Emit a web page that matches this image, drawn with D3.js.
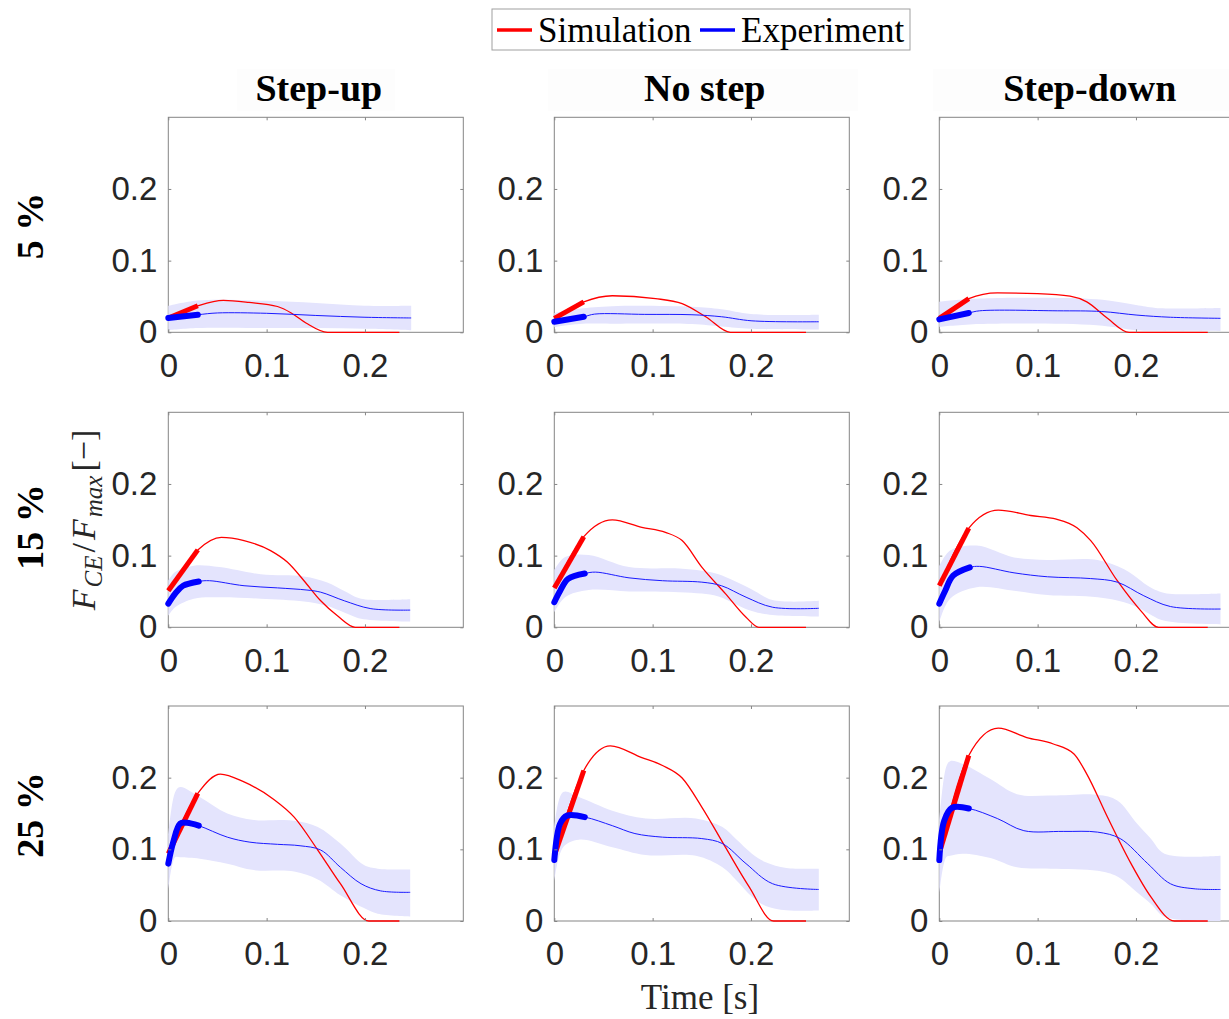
<!DOCTYPE html>
<html>
<head>
<meta charset="utf-8">
<style>
    body { margin: 0; background: white; }
    svg { display: block; }
    .tick text { font-family: 'Liberation Sans', Arial, sans-serif; font-size: 33px; fill: #262626; }
    .tick line { stroke: #858585; }
    .serif { font-family: 'Liberation Serif', 'Times New Roman', serif; }
</style>
</head>
<body>
<svg width="1229" height="1019"></svg>

<script src="https://d3js.org/d3.v7.min.js"></script>
<script>
    // column / row labels and ticks
    const colNames = ["Step-up", "No step", "Step-down"]
    const rowNames = ["5 %", "15 %", "25 %"]
    const xTicks = [0, 0.1, 0.2]
    const yTicks = [0, 0.1, 0.2]
    const thickEnd = 0.031   // the bold start of each curve

    // simulation [t, F]  /  experiment mean [t, F]  /  experiment band [t, lo, hi]
    // --- 5 %
    const simUp5 = [[0,0.020],[0.03,0.037],[0.056,0.0445],[0.082,0.0417],[0.111,0.036],[0.125,0.027],[0.14,0.013],[0.162,0],[0.235,0]]
    const expUp5 = [[0,0.020],[0.03,0.0245],[0.05,0.027],[0.1,0.0265],[0.15,0.0235],[0.2,0.021],[0.247,0.020]]
    const bandUp5 = [[0,0.003,0.037],[0.03,0.006,0.0445],[0.1,0.006,0.044],[0.15,0.006,0.041],[0.2,0.005,0.037],[0.247,0.003,0.037]]

    const simNo5 = [[0,0.0195],[0.03,0.0425],[0.059,0.051],[0.103,0.047],[0.13,0.040],[0.154,0.0217],[0.179,0],[0.256,0]]
    const expNo5 = [[0,0.0147],[0.03,0.0217],[0.041,0.0254],[0.092,0.025],[0.14,0.0245],[0.17,0.0217],[0.201,0.016],[0.269,0.0147]]
    const bandNo5 = [[0,0.007,0.027],[0.025,0.0115,0.033],[0.059,0.012,0.0365],[0.14,0.0115,0.0355],[0.17,0.008,0.032],[0.2,0.005,0.0254],[0.269,0.004,0.0245]]

    const simDown5 = [[0,0.0195],[0.03,0.047],[0.059,0.055],[0.1,0.054],[0.133,0.0505],[0.15,0.0425],[0.171,0.0195],[0.193,0],[0.273,0]]
    const expDown5 = [[0,0.018],[0.03,0.027],[0.041,0.030],[0.12,0.030],[0.165,0.029],[0.201,0.024],[0.235,0.021],[0.286,0.0195]]
    const bandDown5 = [[0,0.0075,0.0425],[0.041,0.0115,0.047],[0.16,0.010,0.046],[0.2,0.003,0.038],[0.22,0.002,0.034],[0.286,0.0015,0.034]]

    // --- 15 %
    const simUp15 = [[0,0.051],[0.03,0.108],[0.054,0.1255],[0.077,0.121],[0.104,0.107],[0.121,0.091],[0.138,0.065],[0.155,0.037],[0.172,0.016],[0.19,0],[0.235,0]]
    const expUp15 = [[0,0.033],[0.007,0.047],[0.015,0.058],[0.031,0.064],[0.042,0.065],[0.077,0.058],[0.111,0.055],[0.141,0.052],[0.155,0.049],[0.179,0.037],[0.206,0.026],[0.246,0.024]]
    const bandUp15 = [[0,0.016,0.065],[0.007,0.028,0.077],[0.026,0.040,0.086],[0.052,0.042,0.084],[0.094,0.040,0.074],[0.138,0.036,0.071],[0.161,0.030,0.063],[0.18,0.020,0.050],[0.196,0.012,0.040],[0.246,0.008,0.039]]

    const simNo15 = [[0,0.055],[0.03,0.1265],[0.059,0.150],[0.089,0.1395],[0.113,0.1325],[0.13,0.121],[0.15,0.084],[0.174,0.047],[0.195,0.014],[0.208,0],[0.256,0]]
    const expNo15 = [[0,0.035],[0.006,0.051],[0.014,0.0675],[0.031,0.075],[0.042,0.077],[0.076,0.069],[0.11,0.065],[0.15,0.063],[0.17,0.058],[0.195,0.042],[0.222,0.028],[0.269,0.0265]]
    const bandNo15 = [[0,0.021,0.08],[0.011,0.042,0.098],[0.035,0.052,0.101],[0.076,0.050,0.084],[0.127,0.049,0.082],[0.15,0.047,0.079],[0.167,0.043,0.074],[0.2,0.023,0.0535],[0.222,0.017,0.038],[0.269,0.015,0.037]]

    const simDown15 = [[0,0.058],[0.03,0.1385],[0.06,0.1635],[0.093,0.156],[0.119,0.151],[0.14,0.139],[0.154,0.121],[0.181,0.065],[0.205,0.023],[0.223,0],[0.273,0]]
    const expDown15 = [[0,0.033],[0.006,0.051],[0.014,0.072],[0.031,0.0835],[0.041,0.085],[0.076,0.076],[0.11,0.0705],[0.154,0.068],[0.181,0.063],[0.208,0.044],[0.235,0.029],[0.286,0.0255]]
    const bandDown15 = [[0,0.007,0.085],[0.011,0.040,0.107],[0.038,0.056,0.114],[0.076,0.051,0.0975],[0.11,0.045,0.094],[0.161,0.042,0.094],[0.188,0.035,0.081],[0.205,0.0255,0.065],[0.212,0.020,0.058],[0.229,0.009,0.048],[0.286,0.004,0.047]]

    // --- 25 %
    const simUp25 = [[0,0.094],[0.03,0.178],[0.053,0.205],[0.077,0.194],[0.107,0.170],[0.128,0.145],[0.152,0.099],[0.175,0.052],[0.204,0],[0.235,0]]
    const expUp25 = [[0,0.080],[0.005,0.110],[0.012,0.136],[0.019,0.137],[0.031,0.133],[0.06,0.117],[0.083,0.110],[0.111,0.107],[0.134,0.105],[0.155,0.099],[0.175,0.075],[0.196,0.052],[0.216,0.042],[0.246,0.040]]
    const bandUp25 = [[0,0.043,0.12],[0.007,0.089,0.180],[0.012,0.089,0.187],[0.032,0.087,0.173],[0.06,0.080,0.150],[0.087,0.071,0.141],[0.128,0.069,0.140],[0.152,0.058,0.131],[0.175,0.036,0.108],[0.199,0.018,0.078],[0.213,0.010,0.073],[0.246,0.006,0.072]]

    const simNo25 = [[0,0.091],[0.03,0.210],[0.057,0.2445],[0.089,0.228],[0.11,0.217],[0.13,0.1995],[0.15,0.159],[0.174,0.103],[0.198,0.048],[0.223,0],[0.256,0]]
    const expNo25 = [[0,0.085],[0.006,0.136],[0.013,0.147],[0.031,0.145],[0.059,0.133],[0.082,0.122],[0.11,0.117],[0.15,0.115],[0.171,0.108],[0.195,0.080],[0.222,0.052],[0.269,0.044]]
    const bandNo25 = [[0,0.055,0.13],[0.009,0.103,0.180],[0.025,0.1135,0.173],[0.059,0.103,0.154],[0.093,0.092,0.143],[0.144,0.091,0.143],[0.171,0.075,0.131],[0.185,0.057,0.114],[0.201,0.034,0.094],[0.215,0.021,0.082],[0.236,0.015,0.074],[0.269,0.0145,0.073]]

    const simDown25 = [[0,0.095],[0.03,0.231],[0.06,0.269],[0.089,0.256],[0.116,0.247],[0.137,0.233],[0.15,0.205],[0.171,0.145],[0.195,0.080],[0.215,0.034],[0.239,0],[0.273,0]]
    const expDown25 = [[0,0.085],[0.005,0.140],[0.013,0.158],[0.03,0.157],[0.059,0.143],[0.086,0.126],[0.126,0.125],[0.161,0.124],[0.184,0.115],[0.212,0.080],[0.235,0.052],[0.259,0.045],[0.286,0.044]]
    const bandDown25 = [[0,0.038,0.14],[0.007,0.089,0.215],[0.011,0.091,0.223],[0.024,0.094,0.219],[0.052,0.088,0.198],[0.079,0.075,0.177],[0.113,0.073,0.175],[0.161,0.070,0.176],[0.181,0.062,0.168],[0.201,0.040,0.136],[0.215,0.024,0.115],[0.229,0.006,0.094],[0.286,0.0,0.091]]

    const panels = [
        [simUp5, expUp5, bandUp5], [simNo5, expNo5, bandNo5], [simDown5, expDown5, bandDown5],
        [simUp15, expUp15, bandUp15], [simNo15, expNo15, bandNo15], [simDown15, expDown15, bandDown15],
        [simUp25, expUp25, bandUp25], [simNo25, expNo25, bandNo25], [simDown25, expDown25, bandDown25]
    ]

    let svg = d3.select("svg")

    let colLeft = [168.3, 554.3, 939.3]
    let rowTop = [117.3, 412.3, 706]
    let pw = 295, ph = 215

    let x = d3.scaleLinear().domain([0, 0.3]).range([0, pw])
    let y = d3.scaleLinear().domain([0, 0.3]).range([ph, 0])

    // smooth curves for experiment, monotone for simulation so the zero part stays flat
    let curve = d3.curveCatmullRom.alpha(0.5)
    let line = d3.line().x(d => x(d[0])).y(d => y(d[1])).curve(curve)
    let simLine = d3.line().x(d => x(d[0])).y(d => y(d[1])).curve(d3.curveMonotoneX)
    let area = d3.area().x(d => x(d[0])).y0(d => y(d[1])).y1(d => y(d[2])).curve(curve)

    // faint title backgrounds (matlab title boxes)
    let titleBg = [[237, 158], [548, 310], [933, 296]]
    colNames.forEach((name, c) => {
        svg.append("rect")
            .attr("x", titleBg[c][0]).attr("y", 69)
            .attr("width", titleBg[c][1]).attr("height", 42)
            .style("fill", "#fdfdfd")
        svg.append("text")
            .attr("class", "serif")
            .attr("x", colLeft[c] + pw / 2 + 3)
            .attr("y", 101)
            .attr("text-anchor", "middle")
            .style("font-size", "38px")
            .style("font-weight", "bold")
            .text(name)
    })

    let rowCenter = [226, 527, 815]
    rowNames.forEach((name, r) => {
        svg.append("text")
            .attr("class", "serif")
            .attr("transform", `translate(43,${rowCenter[r]}) rotate(-90)`)
            .attr("text-anchor", "middle")
            .style("font-size", "38px")
            .style("font-weight", "bold")
            .text(name)
    })

    let defs = svg.append("defs")
    defs.append("clipPath").attr("id", "box")
        .append("rect").attr("x", -4).attr("y", 0).attr("width", pw + 4).attr("height", ph + 2)

    panels.forEach((p, i) => {
        let r = Math.floor(i / 3), c = i % 3
        let g = svg.append("g").attr("transform", `translate(${colLeft[c]},${rowTop[r]})`)
        let [sim, exp, band] = p
        let plot = g.append("g").attr("clip-path", "url(#box)")

        g.append("rect").attr("width", pw).attr("height", ph)
            .style("fill", "none").style("stroke", "#858585").style("stroke-width", 1)

        plot.append("path").datum(band).attr("d", area).style("fill", "#e4e4fd")
        plot.append("path").datum(sim).attr("d", simLine)
            .style("fill", "none").style("stroke", "#ff0000").style("stroke-width", 1.3)
        plot.append("path").datum(exp).attr("d", line)
            .style("fill", "none").style("stroke", "#1a1aff").style("stroke-width", 1)
        plot.append("path").datum(sim.filter(d => d[0] <= thickEnd)).attr("d", simLine)
            .style("fill", "none").style("stroke", "#ff0000").style("stroke-width", 5)
        plot.append("path").datum(exp.filter(d => d[0] <= thickEnd)).attr("d", line)
            .style("fill", "none").style("stroke", "#0000ff").style("stroke-width", 6)
            .style("stroke-linecap", "round").style("stroke-linejoin", "round")
        plot.raise()

        // axes with ticks pointing inward, mirrored on top / right
        let fmt = d => d === 0 ? "0" : d3.format(".1f")(d)
        g.append("g").attr("transform", `translate(0,${ph})`)
            .call(d3.axisBottom(x).tickValues(xTicks).tickSize(-3).tickPadding(21).tickFormat(fmt))
        g.append("g")
            .call(d3.axisLeft(y).tickValues(yTicks).tickSize(-3).tickPadding(11).tickFormat(fmt))
        g.append("g")
            .call(d3.axisTop(x).tickValues(xTicks).tickSize(-3).tickFormat(""))
        g.append("g").attr("transform", `translate(${pw},0)`)
            .call(d3.axisRight(y).tickValues(yTicks).tickSize(-3).tickFormat(""))
        g.selectAll(".domain").remove()
        g.selectAll(".tick text").attr("fill", null)
    })

    // y label
    let yl = svg.append("text")
        .attr("class", "serif")
        .attr("transform", "translate(95,520) rotate(-90)")
        .attr("text-anchor", "middle")
        .style("font-size", "34px")
        .style("fill", "#262626")
    yl.append("tspan").style("font-style", "italic").text("F")
    yl.append("tspan").style("font-style", "italic").style("font-size", "25px").attr("dy", 7).attr("dx", 2).text("CE")
    yl.append("tspan").attr("dy", -7).attr("dx", 3).text("/")
    yl.append("tspan").style("font-style", "italic").attr("dx", 3).text("F")
    yl.append("tspan").style("font-style", "italic").style("font-size", "25px").attr("dy", 7).attr("dx", 2).text("max")
    yl.append("tspan").attr("dy", -7).attr("dx", 4).text("[−]")

    // x label
    svg.append("text")
        .attr("class", "serif")
        .attr("x", 700).attr("y", 1009)
        .attr("text-anchor", "middle")
        .style("font-size", "35px")
        .style("fill", "#262626")
        .text("Time [s]")

    // legend
    let legendItems = [["Simulation", "#ff0000", 497], ["Experiment", "#0000ff", 700]]
    svg.append("rect").attr("x", 492).attr("y", 9).attr("width", 418).attr("height", 41)
        .style("fill", "white").style("stroke", "#a0a0a0")
    legendItems.forEach(d => {
        svg.append("line").attr("x1", d[2]).attr("x2", d[2] + 35).attr("y1", 30).attr("y2", 30)
            .style("stroke", d[1]).style("stroke-width", 3.5)
        svg.append("text").attr("class", "serif")
            .attr("x", d[2] + 41).attr("y", 42)
            .style("font-size", "35px")
            .text(d[0])
    })
</script>
</body>
</html>
